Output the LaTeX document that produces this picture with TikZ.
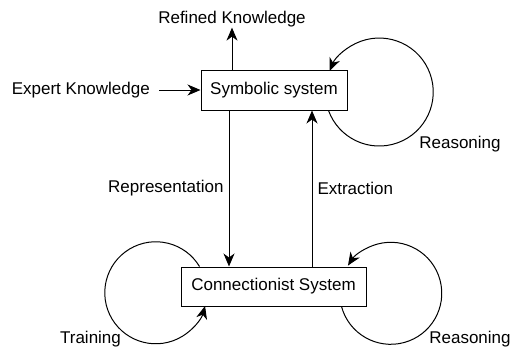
\documentclass[tikz,border=0pt]{standalone}
\usepackage{fontspec}
\setmainfont{Liberation Sans}
\usetikzlibrary{arrows.meta}

\begin{document}
\begin{tikzpicture}[x=1pt, y=1pt,
    box/.style={draw, line width=1pt, minimum height=39pt, inner sep=0pt},
    lbl/.style={inner sep=2pt},
    arr/.style={-{Stealth[length=13pt, width=11pt, inset=4pt]}, line width=1pt},
    font=\fontsize{17}{20}\selectfont]

    % Page frame
    \useasboundingbox (0,0) rectangle (512,349);
    \def\rx{229}    % representation, x
    \def\ex{312}    % extraction, x
    \coordinate (rep) at (\rx, 0);
    \coordinate (ext) at (\ex, 0);

    % Systems
    \node[box, minimum width=146pt] (sym) at (274, 258.5) {Symbolic system};
    \node[box, minimum width=185pt] (con) at (273.5, 62.5) {Connectionist System};

    % Knowledge in and out
    \node[lbl] (refined) at (232, 329.5) {Refined Knowledge};
    \node[lbl, anchor=east] (expert) at (152, 259) {Expert Knowledge};
    \draw[arr] (sym.north -| refined) -- ([yshift=2pt]refined.south);
    \draw[arr, shorten <=7pt] (expert.east) -- (sym.west |- expert.east);

    % Between the systems
    \draw[arr] (sym.south -| rep) -- node[lbl, left=3pt] (reptext) {Representation} (con.north -| rep);
    \draw[arr] (con.north -| ext) -- node[lbl, right=3pt] (exttext) {Extraction} (sym.south -| ext);

    % Loops
    \draw[arr] ([xshift=-19pt]sym.south east) arc[start angle=200, end angle=517, radius=54];
    \draw[arr] ([xshift=-25pt]con.south east) arc[start angle=195, end angle=507, radius=51];
    \draw[arr] ([xshift=19pt]con.north west) arc[start angle=31, end angle=345, radius=51];
    \node[lbl] (reas1) at (460, 204.5) {Reasoning};
    \node[lbl] (reas2) at (470, 9.5) {Reasoning};
    \node[lbl] (train) at (90.5, 9.5) {Training};

\end{tikzpicture}
\end{document}
